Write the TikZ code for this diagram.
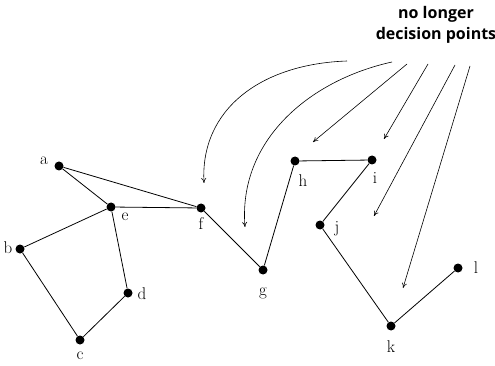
\documentclass[tikz,border=0pt]{standalone}
\usepackage{fontspec}
\newfontfamily\headfont{Open Sans}
\usetikzlibrary{arrows.meta}
\begin{document}
\begin{tikzpicture}[x=1pt,y=-1pt,
  dot/.style={circle,fill=black,inner sep=0pt,minimum size=9pt},
  lab/.style={font=\fontsize{17}{17}\selectfont,inner sep=0pt},
  edge/.style={line width=0.8pt},
  pointer/.style={line width=0.6pt,-{To[length=5pt,width=5pt]}},
  head/.style={font=\headfont\bfseries\fontsize{16}{21}\selectfont,align=center,inner sep=0pt}]
\useasboundingbox (0,0) rectangle (495,366);
% nodes
\node[dot] (a) at (59,166) {};
\node[dot] (e) at (111,207) {};
\node[dot] (f) at (201,208) {};
\node[dot] (b) at (20,249) {};
\node[dot] (d) at (128,293) {};
\node[dot] (c) at (80,340) {};
\node[dot] (g) at (263,270) {};
\node[dot] (h) at (295,161) {};
\node[dot] (i) at (372,160) {};
\node[dot] (j) at (320,225) {};
\node[dot] (k) at (391,326) {};
\node[dot] (l) at (458,268) {};
% labels
\node[lab] (la) at (44,161) {a};
\node[lab] (le) at (125,217) {e};
\node[lab] (lf) at (201,224) {f};
\node[lab] (lb) at (8,248) {b};
\node[lab] (ld) at (142,294) {d};
\node[lab] (lc) at (80,356) {c};
\node[lab] (lg) at (263,293) {g};
\node[lab] (lh) at (303,181) {h};
\node[lab] (li) at (375,178) {i};
\node[lab] (lj) at (337,229) {j};
\node[lab] (lk) at (391,347) {k};
\node[lab] (ll) at (476,268) {l};
% edges
\draw[edge] (a) -- (e);
\draw[edge] (a) -- (f);
\draw[edge] (e) -- (f);
\draw[edge] (e) -- (b);
\draw[edge] (e) -- (d);
\draw[edge] (b) -- (c);
\draw[edge] (c) -- (d);
\draw[edge] (f) -- (g);
\draw[edge] (g) -- (h);
\draw[edge] (h) -- (i);
\draw[edge] (i) -- (j);
\draw[edge] (j) -- (k);
\draw[edge] (k) -- (l);
% heading
\node[head] (t) at (436,25) {no longer\\decision points};
% pointer starts / ends
\coordinate (s1) at (347,61);
\coordinate (s2) at (392,62);
\coordinate (s3) at (407,64);
\coordinate (s4) at (428,64);
\coordinate (s5) at (455,65);
\coordinate (s6) at (470,66);
\coordinate (t1) at (204,183);
\coordinate (t2) at (245,227);
\coordinate (t3) at (313,142);
\coordinate (t4) at (384,139);
\coordinate (t5) at (374,216);
\coordinate (t6) at (403,288);
\draw[pointer] (s1) .. controls (260,64) and (200,110) .. (t1);
\draw[pointer] (s2) .. controls (310,80) and (238,140) .. (t2);
\draw[pointer] (s3) -- (t3);
\draw[pointer] (s4) -- (t4);
\draw[pointer] (s5) -- (t5);
\draw[pointer] (s6) -- (t6);
\end{tikzpicture}
\end{document}
